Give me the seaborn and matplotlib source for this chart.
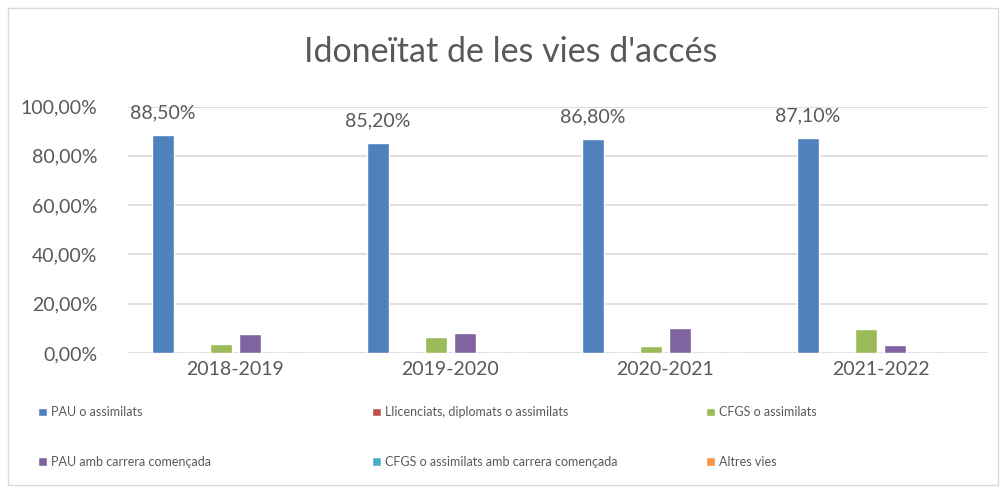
import pandas as pd
import seaborn as sns
import matplotlib.pyplot as plt
from matplotlib.patches import Rectangle

cursos = ["2018-2019", "2019-2020", "2020-2021", "2021-2022"]
vies = ["PAU o assimilats", "Llicenciats, diplomats o assimilats", "CFGS o assimilats",
        "PAU amb carrera començada", "CFGS o assimilats amb carrera començada", "Altres vies"]
pau = [88.5, 85.2, 86.8, 87.1]
llicenciats = [0, 0, 0, 0]
cfgs = [3.6, 6.6, 2.8, 9.7]
pau_carrera = [7.7, 8.1, 10.2, 3.4]
cfgs_carrera = [0, 0, 0, 0]
altres = [0, 0, 0, 0]
colors = ["#4F81BD", "#C0504D", "#9BBB59", "#8064A2", "#4BACC6", "#F79646"]

series = [pau, llicenciats, cfgs, pau_carrera, cfgs_carrera, altres]
rows = []
for via, vals in zip(vies, series):
    for curs, v in zip(cursos, vals):
        rows.append({"curs": curs, "via": via, "valor": v})
df = pd.DataFrame(rows)

sns.set_style("white")
plt.rcParams["font.family"] = ["Lato", "DejaVu Sans"]
txt = "#595959"

fig = plt.figure(figsize=(10.05, 4.93), dpi=100)
ax = fig.add_axes([128 / 1005, 1 - 353 / 493, 860 / 1005, 246.5 / 493])

sns.barplot(data=df, x="curs", y="valor", hue="via", hue_order=vies, palette=colors,
            width=0.81, gap=0.24, saturation=1, ax=ax)

ax.set_ylim(0, 100)
ax.set_yticks(range(0, 101, 20))
ax.set_yticklabels([f"{t:.2f}%".replace(".", ",") for t in range(0, 101, 20)])
ax.yaxis.grid(True, color="#d9d9d9", linewidth=1.2)
ax.set_axisbelow(True)
for s in ax.spines.values():
    s.set_visible(False)
ax.tick_params(axis="both", length=0, labelsize=14, colors=txt, pad=6)
ax.tick_params(axis="y", pad=22)
ax.set_xlabel("")
ax.set_ylabel("")

ax.bar_label(ax.containers[0], labels=[f"{v:.2f}%".replace(".", ",") for v in pau],
             padding=10, fontsize=14, color=txt)

fig.text(511 / 1005, 1 - 52 / 493, "Idoneïtat de les vies d'accés", fontsize=24.5,
         color=txt, ha="center", va="center")

handles, labels = ax.get_legend_handles_labels()
ax.get_legend().remove()
for i, x0 in enumerate([27, 361, 695]):
    leg = fig.legend([handles[i], handles[i + 3]], [labels[i], labels[i + 3]], loc="upper left",
                     bbox_to_anchor=(x0 / 1005, 1 - 395 / 493), frameon=False, fontsize=9,
                     labelcolor=txt, handlelength=0.7, handleheight=0.7, handletextpad=0.3,
                     labelspacing=3.0)

fig.patches.append(Rectangle((8 / 1005, 8 / 493), 990 / 1005, 477 / 493, transform=fig.transFigure,
                             fill=False, edgecolor="#d9d9d9", linewidth=1))

fig.savefig("out.png", dpi=100)
